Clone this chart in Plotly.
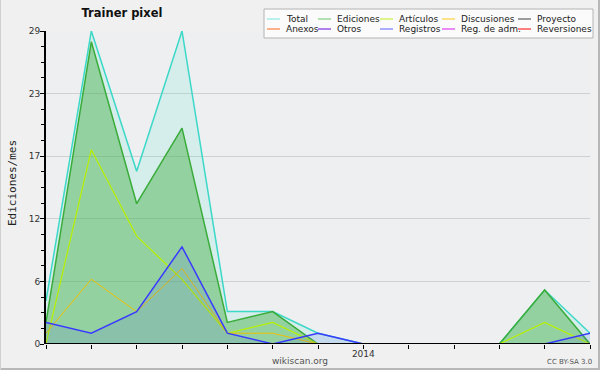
import plotly.graph_objects as go

# ---------------- data ----------------
months = ["2013-06", "2013-07", "2013-08", "2013-09", "2013-10", "2013-11", "2013-12",
          "2014-01", "2014-02", "2014-03", "2014-04", "2014-05", "2014-06"]
x_tick_labels = ["", "", "", "", "", "", "", "2014", "", "", "", "", ""]

total = [4, 29, 16, 29, 3, 3, 1, 0, 0, 0, 0, 5, 1]
ediciones = [2, 28, 13, 20, 2, 3, 0, 0, 0, 0, 0, 5, 0]
articulos = [0, 18, 10, 6, 1, 2, 0, 0, 0, 0, 0, 2, 0]
discusiones = [1, 6, 3, 7, 1, 1, 0, 0, 0, 0, 0, 0, 0]
proyecto = [0, 0, 0, 0, 0, 0, 0, 0, 0, 0, 0, 0, 0]
anexos = [0, 0, 0, 0, 0, 0, 0, 0, 0, 0, 0, 0, 0]
otros = [0, 0, 0, 0, 0, 0, 0, 0, 0, 0, 0, 0, 0]
registros = [2, 1, 3, 9, 1, 0, 1, 0, 0, 0, 0, 0, 1]
reg_adm = [0, 0, 0, 0, 0, 0, 0, 0, 0, 0, 0, 0, 0]
reversiones = [0, 0, 0, 0, 0, 0, 0, 0, 0, 0, 0, 0, 0]

y_tick_values = [0, 5.8, 11.6, 17.4, 23.2, 29]
y_tick_labels = ["0", "6", "12", "17", "23", "29"]

legend_names = ["Total", "Ediciones", "Artículos", "Discusiones", "Proyecto",
                "Anexos", "Otros", "Registros", "Reg. de adm.", "Reversiones"]
legend_colors = ["#8ee8e4", "#80d080", "#c8f040", "#ffd040", "#606060",
                 "#ff8040", "#8030e0", "#7878ff", "#e040f0", "#ff3030"]

title_text = "Trainer pixel"
y_title = "Ediciones/mes"

# ---------------- layout helpers ----------------
W, H = 600, 370
L, R, T, B = 46, 10, 31, 26
PW, PH = W - L - R, H - T - B


def px_x(px):
    return (px - L) / PW


def px_y(py):
    return (H - B - py) / PH


fig = go.Figure()

series = [
    (proyecto, "#606060", 1.0, None),
    (anexos, "#ff8040", 1.0, None),
    (otros, "#8030e0", 1.0, None),
    (reg_adm, "#e040f0", 1.0, None),
    (reversiones, "#ff3030", 1.0, None),
    (total, "#3cd8c8", 1.5, "rgba(64,224,200,0.14)"),
    (ediciones, "#3aac3a", 1.5, "rgba(60,172,60,0.42)"),
    (articulos, "#b8f000", 1.2, None),
    (discusiones, "#eec000", 1.0, None),
    (registros, "#3a3aff", 1.5, "rgba(60,60,255,0.10)"),
]

for vals, col, lw, fc in series:
    kw = dict(x=months, y=vals, mode="lines", line=dict(color=col, width=lw),
              showlegend=False, hoverinfo="skip")
    if fc:
        kw.update(fill="tozeroy", fillcolor=fc)
    fig.add_trace(go.Scatter(**kw))

shapes = []
annotations = []

# baseline drawn over the data (covers zero-valued lines like the reference axis)
shapes.append(dict(type="line", xref="paper", yref="y", x0=0, x1=1, y0=0, y1=0,
                   line=dict(color="#000", width=2), layer="above"))

# legend box
shapes.append(dict(type="rect", xref="paper", yref="paper",
                   x0=px_x(264), x1=px_x(593), y0=px_y(38), y1=px_y(9),
                   fillcolor="#fbfbfb", line=dict(color="#b4b4b4", width=1), layer="above"))
col_x = [267, 318, 380, 442, 518]
row_y = [19, 29]
for i, (name, col) in enumerate(zip(legend_names, legend_colors)):
    r, c = divmod(i, 5)
    x0 = col_x[c]
    y = row_y[r]
    shapes.append(dict(type="line", xref="paper", yref="paper",
                       x0=px_x(x0), x1=px_x(x0 + 13), y0=px_y(y), y1=px_y(y),
                       line=dict(color=col, width=1.2), layer="above"))
    annotations.append(dict(xref="paper", yref="paper", x=px_x(x0 + 17), y=px_y(y),
                            xanchor="left", yanchor="middle", text=name, showarrow=False,
                            font=dict(family="DejaVu Sans", size=9, color="#222")))

# figure frame
shapes.append(dict(type="line", xref="paper", yref="paper", x0=px_x(0), x1=px_x(600),
                   y0=px_y(369), y1=px_y(369), line=dict(color="#b8b8b8", width=2)))
shapes.append(dict(type="line", xref="paper", yref="paper", x0=px_x(599), x1=px_x(599),
                   y0=px_y(0), y1=px_y(370), line=dict(color="#b8b8b8", width=2)))
shapes.append(dict(type="line", xref="paper", yref="paper", x0=px_x(0.5), x1=px_x(0.5),
                   y0=px_y(0), y1=px_y(370), line=dict(color="#d0d0d0", width=1)))

annotations.append(dict(xref="paper", yref="paper", x=px_x(12), y=px_y(183),
                        xanchor="center", yanchor="middle",
                        text=y_title, textangle=-90, showarrow=False,
                        font=dict(family="DejaVu Sans Mono", size=11, color="#222")))
annotations.append(dict(xref="paper", yref="paper", x=px_x(300), y=px_y(361),
                        xanchor="center", yanchor="middle",
                        text="wikiscan.org", showarrow=False,
                        font=dict(family="DejaVu Sans", size=9, color="#555")))
annotations.append(dict(xref="paper", yref="paper", x=px_x(569), y=px_y(362),
                        xanchor="center", yanchor="middle",
                        text="CC BY-SA 3.0", showarrow=False,
                        font=dict(family="DejaVu Sans", size=7, color="#555")))

fig.update_layout(
    width=W, height=H,
    margin=dict(l=L, r=R, t=T, b=B, pad=0),
    paper_bgcolor="#f0f0f0",
    plot_bgcolor="#eeeff1",
    title=dict(text="<b>" + title_text + "</b>", xref="container", yref="container",
               x=122 / W, xanchor="center", y=1 - 13 / H, yanchor="middle",
               font=dict(family="DejaVu Sans", size=11.5, color="#111")),
    shapes=shapes,
    annotations=annotations,
    showlegend=False,
    xaxis=dict(type="category", range=[0, 12], tickmode="array",
               tickvals=months, ticktext=x_tick_labels,
               ticks="outside", ticklen=4, tickcolor="#000", tickwidth=1,
               ticklabelstandoff=-3,
               showline=False, showgrid=False, zeroline=False, automargin=False,
               tickfont=dict(family="DejaVu Sans", size=9, color="#333")),
    yaxis=dict(range=[0, 29], tickmode="array", tickvals=y_tick_values,
               ticktext=y_tick_labels, ticks="outside", ticklen=4,
               tickcolor="#000", tickwidth=1, automargin=False,
               ticklabelstandoff=-2,
               showline=True, linecolor="#000", linewidth=2,
               showgrid=True, gridcolor="#d0d0d0", gridwidth=1, zeroline=False,
               minor=dict(tick0=0, dtick=1.45, ticks="outside", ticklen=3,
                          tickcolor="#000", showgrid=False),
               tickfont=dict(family="DejaVu Sans", size=9, color="#333")),
)

fig.write_html("out.html", config={"displayModeBar": False},
               post_script="document.body.style.margin='0';document.body.style.padding='0';")
